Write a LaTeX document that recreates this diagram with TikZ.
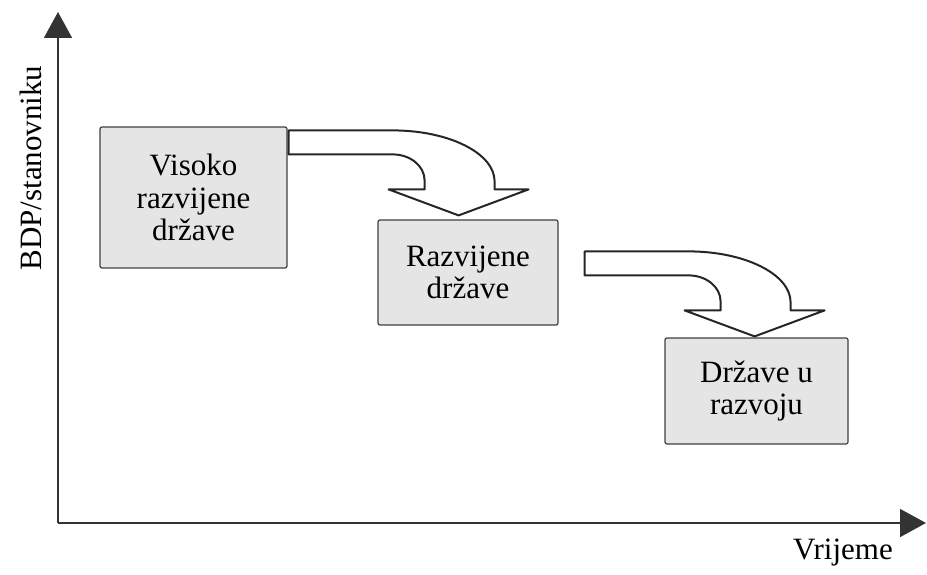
\documentclass[tikz,border=0pt]{standalone}
\usepackage{fontspec}
\setmainfont{Liberation Serif}
\usetikzlibrary{arrows.meta,positioning,calc}

% bent arrow between two boxes, #1 = start of shaft (top left)
\newcommand{\bendarrow}[1]{%
    \draw [bigarrow, shift={(#1)}] (0,0) -- (104,0)
        arc [start angle=90, end angle=0, x radius=102, y radius=51]
        -- (206,-59) -- (240,-59) -- (170,-85) -- (100,-59) -- (136,-59) -- (136,-50)
        arc [start angle=0, end angle=90, x radius=32, y radius=26]
        -- (0,-24) -- cycle;%
}

\begin{document}
\begin{tikzpicture}[
    x=0.5pt, y=0.5pt,
    font=\fontsize{15.5}{16.3}\selectfont,
    box/.style={
        rectangle,
        draw=black!75,
        line width=0.6pt,
        fill=black!10,
        rounded corners=1pt,
        align=center,
        inner sep=0pt
    },
    axis/.style={draw=black!80, line width=0.8pt, -{Triangle[length=13pt, width=14pt]}},
    bigarrow/.style={draw=black!85, line width=1pt, fill=white, line join=round}
]
\useasboundingbox (0,0) rectangle (927,574);

% Axes
\coordinate (origin) at (58,51);
\coordinate (ytop) at (58,562);
\coordinate (xend) at (926,51);
\draw [axis] (origin) -- (ytop);
\draw [axis] (origin) -- (xend);
\node [rotate=90] (ylabel) at (31,406) {BDP/stanovniku};
\node (xlabel) at (843,21) {Vrijeme};

% Boxes
\node [box, minimum width=93.5pt, minimum height=70.5pt] (visoko) at (193.5,376.5) {Visoko\\razvijene\\države};
\node [box, minimum width=90pt, minimum height=52.5pt] (razvijene) at (468,301.5) {Razvijene\\države};
\node [box, minimum width=91.5pt, minimum height=53pt] (razvoj) at (756.5,183) {Države u\\razvoju};

% Arrows
\coordinate (start1) at ($(visoko.north east)+(1,-4)$);
\coordinate (start2) at ($(razvijene.north east)+(26,-32)$);
\bendarrow{start1}
\bendarrow{start2}

\end{tikzpicture}
\end{document}
